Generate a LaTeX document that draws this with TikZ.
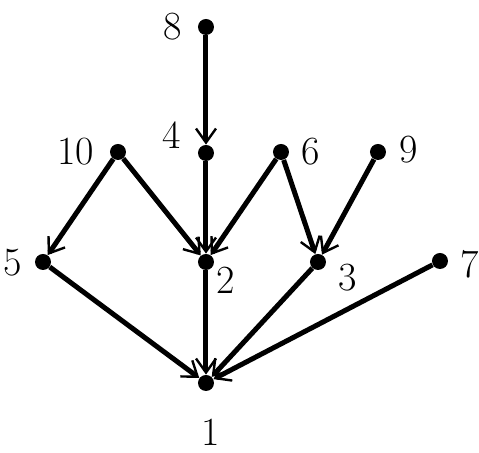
\documentclass[tikz,border=0pt]{standalone}
\usetikzlibrary{arrows.meta, positioning}

\tikzset{
  dot/.style={circle, fill=black, inner sep=0pt, minimum size=8pt},
  lbl/.style={font=\fontsize{20}{20}\selectfont, inner sep=0pt},
  edge/.style={line width=2.5pt, -{Straight Barb[length=7pt, width=10pt, line width=1.2pt]}},
}

\begin{document}
\begin{tikzpicture}[x=0.5pt, y=-0.5pt]
  \useasboundingbox (0,0) rectangle (479,453);

  % vertices
  \foreach \n/\x/\y in {1/206/383, 2/206/262, 3/318/262, 4/206/153, 5/43/262,
                        6/281/152, 7/440/261, 8/206/27, 9/378/152, 10/118/152} {
      \node[dot] (v\n) at (\x,\y) {};
    }

  % labels
  \foreach \n/\x/\y in {1/211/432, 2/226/280, 3/348/278, 4/172/135, 5/13/263,
                        6/311/152, 7/470/264, 8/173/27, 9/409/150, 10/76/152} {
      \node[lbl] (l\n) at (\x,\y) {\n};
    }

  % arcs
  \foreach \a/\b in {8/4, 4/2, 10/5, 10/2, 6/2, 6/3, 9/3, 5/1, 2/1, 3/1, 7/1} {
      \draw[edge] (v\a) -- (v\b);
    }
\end{tikzpicture}
\end{document}
